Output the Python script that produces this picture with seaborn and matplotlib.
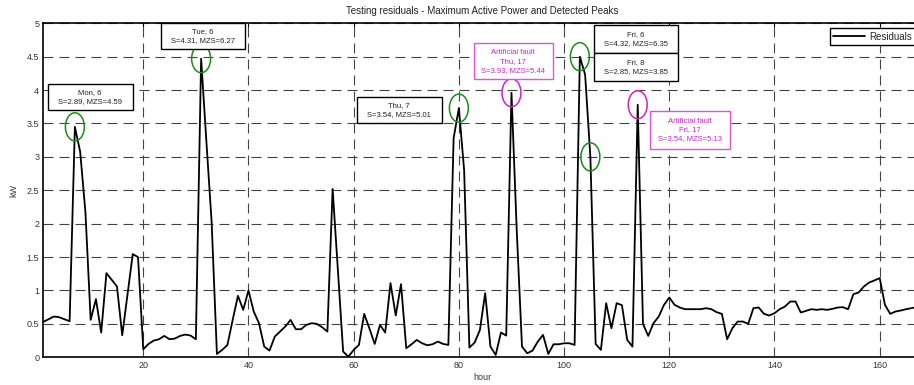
import numpy as np
import pandas as pd
import matplotlib
matplotlib.use('Agg')
import matplotlib.pyplot as plt
import seaborn as sns
from matplotlib.patches import Ellipse, Rectangle

# ---------------- data ----------------
hours = list(range(1, 169))
residuals = [
    0.53, 0.57, 0.61, 0.60, 0.57, 0.54, 3.45, 3.08, 2.18, 0.56,
    0.87, 0.37, 1.26, 1.16, 1.06, 0.33, 0.94, 1.545, 1.50, 0.12,
    0.20, 0.25, 0.27, 0.32, 0.27, 0.28, 0.32, 0.34, 0.325, 0.27,
    4.47, 3.23, 2.02, 0.05, 0.11, 0.185, 0.56, 0.92, 0.71, 1.00,
    0.685, 0.51, 0.16, 0.10, 0.31, 0.385, 0.46, 0.56, 0.42, 0.42,
    0.485, 0.51, 0.50, 0.45, 0.385, 2.52, 1.30, 0.085, 0.01, 0.11,
    0.185, 0.65, 0.43, 0.20, 0.485, 0.37, 1.11, 0.625, 1.095, 0.135,
    0.195, 0.26, 0.21, 0.18, 0.195, 0.235, 0.20, 0.185, 3.28, 3.73,
    2.80, 0.145, 0.22, 0.41, 0.96, 0.16, 0.035, 0.37, 0.325, 3.96,
    1.90, 0.16, 0.06, 0.10, 0.235, 0.335, 0.05, 0.195, 0.195, 0.21,
    0.21, 0.185, 4.50, 4.23, 3.00, 0.20, 0.11, 0.81, 0.435, 0.81,
    0.78, 0.26, 0.16, 3.78, 0.50, 0.32, 0.51, 0.61, 0.785, 0.895,
    0.785, 0.745, 0.72, 0.72, 0.72, 0.72, 0.735, 0.72, 0.675, 0.65,
    0.27, 0.435, 0.535, 0.535, 0.50, 0.735, 0.745, 0.65, 0.625, 0.66,
    0.72, 0.76, 0.835, 0.835, 0.67, 0.695, 0.72, 0.71, 0.72, 0.71,
    0.725, 0.745, 0.75, 0.72, 0.945, 0.97, 1.06, 1.12, 1.15, 1.185,
    0.785, 0.65, 0.685, 0.70, 0.72, 0.735, 0.75, 0.76,
]
assert len(residuals) == len(hours)

detected_peak_hours = [7, 31, 80, 103, 105]
fault_peak_hours = [90, 114]

detected_labels = [
    "Mon, 6\nS=2.89, MZS=4.59",
    "Tue, 6\nS=4.31, MZS=6.27",
    "Thu, 7\nS=3.54, MZS=5.01",
    "Fri, 6\nS=4.32, MZS=6.35",
    "Fri, 8\nS=2.85, MZS=3.85",
]
fault_labels = [
    "Artificial fault\nThu, 17\nS=3.93, MZS=5.44",
    "Artificial fault\nFri, 17\nS=3.54, MZS=5.13",
]

x_ticks = [20, 40, 60, 80, 100, 120, 140, 160]
y_ticks = [0, 0.5, 1, 1.5, 2, 2.5, 3, 3.5, 4, 4.5, 5]
y_tick_labels = ["0", "0.5", "1", "1.5", "2", "2.5", "3", "3.5", "4", "4.5", "5"]

df = pd.DataFrame({"hour": hours, "kW": residuals})

# ---------------- style ----------------
sns.set_style("white")
plt.rcParams['font.family'] = ['Liberation Sans', 'DejaVu Sans']

fig = plt.figure(figsize=(9.14, 3.85), dpi=100)
ax = fig.add_axes([0.0474, 0.072, 0.9611, 0.8675])

sns.lineplot(data=df, x="hour", y="kW", color="black", linewidth=1.3,
             ax=ax, label="Residuals", zorder=3)

ax.set_xlim(1, 168)
ax.set_ylim(0, 5)
ax.set_xticks(x_ticks)
ax.set_xticklabels([str(t) for t in x_ticks])
ax.set_yticks(y_ticks)
ax.set_yticklabels(y_tick_labels)
ax.tick_params(direction='in', length=3, width=0.8, top=True, right=True,
               labelsize=6.5, colors='black', pad=3)
for tl in ax.get_xticklabels() + ax.get_yticklabels():
    tl.set_color('#333333')

ax.grid(True, color='#444444', linestyle=(0, (9, 5.4)), linewidth=0.8)
ax.set_axisbelow(True)
for sp in ax.spines.values():
    sp.set_color('black')
    sp.set_linewidth(1.2)

ax.set_title("Testing residuals - Maximum Active Power and Detected Peaks",
             fontsize=7, color='#222222', pad=7)
ax.set_xlabel("hour", fontsize=6.5, color='#333333', labelpad=2)
ax.set_ylabel("kW", fontsize=6.5, color='#333333', labelpad=6)

# ---------------- peak ellipses ----------------
green = '#1a8c1a'
magenta = '#cc22cc'
for h in detected_peak_hours:
    ax.add_patch(Ellipse((h, residuals[h - 1]), width=3.6, height=0.42,
                         fill=False, edgecolor=green, linewidth=1.1, zorder=4))
for h in fault_peak_hours:
    ax.add_patch(Ellipse((h, residuals[h - 1]), width=3.6, height=0.42,
                         fill=False, edgecolor=magenta, linewidth=1.1, zorder=4))

# ---------------- text boxes ----------------
detected_boxes = [  # (x0, x1, y0, y1)
    (1.8, 18.0, 3.70, 4.09),
    (23.3, 39.3, 4.61, 5.0),
    (60.6, 76.7, 3.51, 3.90),
    (105.6, 121.7, 4.56, 4.97),
    (105.6, 121.7, 4.13, 4.55),
]
fault_boxes = [
    (82.9, 97.8, 4.16, 4.70),
    (116.3, 131.5, 3.12, 3.69),
]

def draw_box(box, label, edge, tcolor):
    x0, x1, y0, y1 = box
    ax.add_patch(Rectangle((x0, y0), x1 - x0, y1 - y0, facecolor='white',
                           edgecolor=edge, linewidth=1.0, zorder=5,
                           clip_on=False))
    ax.text((x0 + x1) / 2, (y0 + y1) / 2, label, ha='center', va='center',
            fontsize=5.5, color=tcolor, linespacing=1.35, zorder=6)

for b, lab in zip(detected_boxes, detected_labels):
    draw_box(b, lab, 'black', '#222222')
for b, lab in zip(fault_boxes, fault_labels):
    draw_box(b, lab, '#dd55dd', magenta)

leg = ax.legend(loc='upper right', bbox_to_anchor=(0.993, 0.985),
                fontsize=7, frameon=True, fancybox=False, framealpha=1,
                edgecolor='black', handlelength=3.2, borderpad=0.35,
                borderaxespad=0.0, handletextpad=0.5)
leg.get_frame().set_linewidth(1.0)
leg.set_zorder(7)

fig.savefig("out.png", dpi=100)
